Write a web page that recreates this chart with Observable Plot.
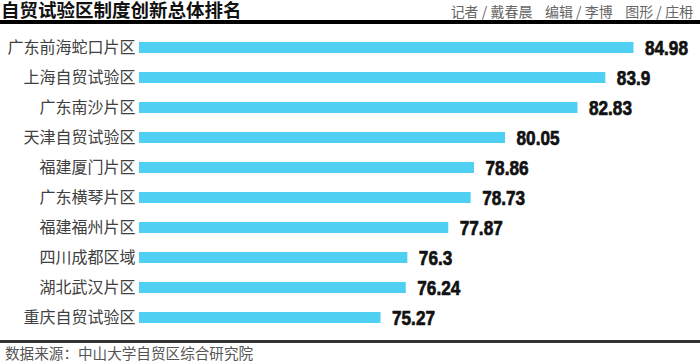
<!DOCTYPE html>
<html>
<head>
<meta charset="utf-8">
<script src="https://cdn.jsdelivr.net/npm/d3@7"></script>
<script src="https://cdn.jsdelivr.net/npm/@observablehq/plot@0.6"></script>
<style>
  html, body { margin: 0; padding: 0; background: #fff; width: 700px; height: 364px; overflow: hidden; }
  body { font-family: "Noto Sans CJK SC", "Noto Sans", sans-serif; }
  #head { position: relative; height: 20px; border-bottom: 4px solid #000; }
  #title { position: absolute; left: 1px; top: 1px; font-family: "Liberation Sans", "Noto Sans CJK SC", sans-serif; font-size: 18.5px; line-height: 20px; font-weight: bold; color: #111; white-space: nowrap; }
  #credits { position: absolute; right: 7px; top: 2px; font-size: 14px; color: #666; white-space: pre; line-height: 18px; }
  #chart svg { display: block; }
  #foot { border-top: 3px solid #333; height: 21px; padding-left: 5px; font-size: 14.6px; color: #555; line-height: 19px; white-space: nowrap; }
</style>
</head>
<body>
<div id="head"><span id="title"></span><span id="credits"></span></div>
<div id="chart"></div>
<div id="foot"></div>
<script>
const titleText = "自贸试验区制度创新总体排名";
const creditsText = "记者 / 戴春晨    编辑 / 李博    图形 / 庄枏";
const sourceText = "数据来源：中山大学自贸区综合研究院";

const regions = ["广东前海蛇口片区", "上海自贸试验区", "广东南沙片区", "天津自贸试验区", "福建厦门片区",
                 "广东横琴片区", "福建福州片区", "四川成都区域", "湖北武汉片区", "重庆自贸试验区"];
const scores = [84.98, 83.9, 82.83, 80.05, 78.86, 78.73, 77.87, 76.3, 76.24, 75.27];
const scoreLabels = ["84.98", "83.9", "82.83", "80.05", "78.86", "78.73", "77.87", "76.3", "76.24", "75.27"];

document.getElementById("title").textContent = titleText;
document.getElementById("credits").textContent = creditsText;
document.getElementById("foot").textContent = sourceText;

const data = regions.map((r, i) => ({region: r, score: scores[i], label: scoreLabels[i]}));

const chart = Plot.plot({
  width: 700,
  height: 316,
  marginLeft: 139,
  marginRight: 66,
  marginTop: 14,
  marginBottom: 13,
  style: {fontFamily: "'Noto Sans CJK SC', sans-serif", overflow: "visible", background: "#fff"},
  x: {domain: [66, 85], axis: null},
  y: {domain: regions, paddingInner: 0.62, paddingOuter: 0, label: null},
  marks: [
    Plot.barX(data, {x1: 66, x2: "score", y: "region", fill: "#4fd0f2"}),
    Plot.text(data, {x: "score", y: "region", text: "label", textAnchor: "start", dx: 11,
      fontFamily: "'Liberation Sans', Arial, sans-serif", className: "vlabel",
      fontWeight: "bold", fontSize: 21, fill: "#111", stroke: "#111", strokeWidth: 0.7}),
    Plot.axisY({tickSize: 0, tickPadding: 4, fontSize: 16, color: "#404040", label: null})
  ]
});
document.getElementById("chart").appendChild(chart);

// condense value labels (reference uses a narrow bold face)
chart.querySelectorAll(".vlabel text").forEach(t => {
  const s = t.textContent;
  const digits = s.replace(/[^0-9]/g, "").length;
  const dots = s.length - digits;
  t.setAttribute("textLength", digits * 9.6 + dots * 4.6);
  t.setAttribute("lengthAdjust", "spacingAndGlyphs");
});
</script>
</body>
</html>
